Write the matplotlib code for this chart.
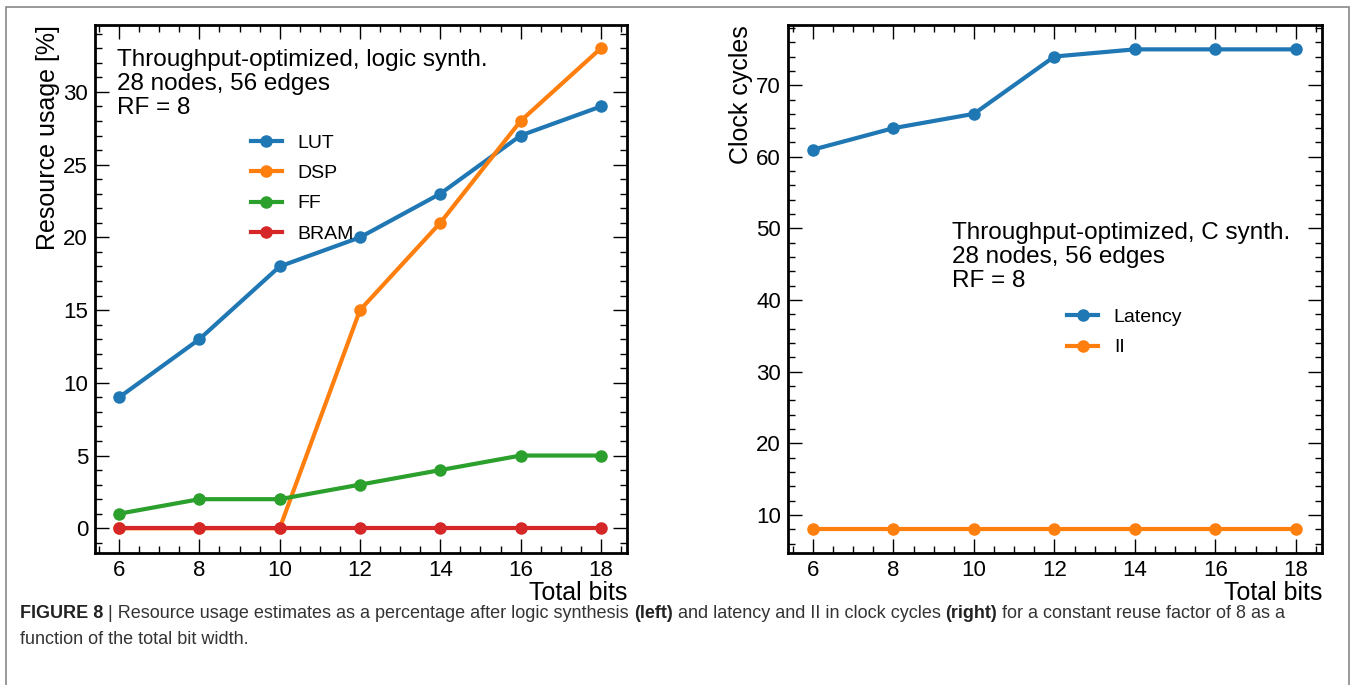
import matplotlib
matplotlib.use("Agg")
import matplotlib.pyplot as plt
from matplotlib.ticker import MultipleLocator
from matplotlib.patches import Rectangle

plt.rcParams['font.family'] = ['Liberation Sans', 'DejaVu Sans']

# data
total_bits = [6, 8, 10, 12, 14, 16, 18]
lut = [9, 13, 18, 20, 23, 27, 29]
dsp = [0, 0, 0, 15, 21, 28, 33]
ff = [1, 2, 2, 3, 4, 5, 5]
bram = [0, 0, 0, 0, 0, 0, 0]
latency = [61, 64, 66, 74, 75, 75, 75]
ii = [8, 8, 8, 8, 8, 8, 8]

colors = ['#1f77b4', '#ff7f0e', '#2ca02c', '#d62728']

fig = plt.figure(figsize=(13.56, 6.85), dpi=100)
W, H = 1356, 685

def px_axes(x0, y0, x1, y1):
    return fig.add_axes([x0 / W, 1 - y1 / H, (x1 - x0) / W, (y1 - y0) / H])

ax1 = px_axes(95, 25, 627, 553)
ax2 = px_axes(788, 25, 1322, 553)

def style(ax, ymajor, yminor):
    ax.xaxis.set_major_locator(MultipleLocator(2))
    ax.xaxis.set_minor_locator(MultipleLocator(0.5))
    ax.yaxis.set_major_locator(MultipleLocator(ymajor))
    ax.yaxis.set_minor_locator(MultipleLocator(yminor))
    ax.tick_params(which='both', direction='in', top=True, right=True, labelsize=16, pad=5)
    ax.tick_params(which='major', length=10, width=1)
    ax.tick_params(which='minor', length=5, width=1)
    for s in ax.spines.values():
        s.set_linewidth(2)
    ax.set_xlabel('Total bits', fontsize=18, loc='right', labelpad=0)

kw = dict(marker='o', markersize=8, linewidth=3)
leg_kw = dict(loc='upper left', frameon=False, fontsize=14, handlelength=1.6,
              labelspacing=0.65, handletextpad=0.8)
note_kw = dict(fontsize=17.5, va='top', ha='left', linespacing=1.12)

for vals, name, c in zip([lut, dsp, ff, bram], ['LUT', 'DSP', 'FF', 'BRAM'], colors):
    ax1.plot(total_bits, vals, color=c, label=name, **kw)
ax1.set_xlim(5.4, 18.65)
ax1.set_ylim(-1.7, 34.6)
style(ax1, 5, 1)
ax1.set_ylabel('Resource usage [%]', fontsize=18, loc='top', labelpad=2)
ax1.text(0.042, 0.955, 'Throughput-optimized, logic synth.\n28 nodes, 56 edges\nRF = 8',
         transform=ax1.transAxes, **note_kw)
ax1.legend(bbox_to_anchor=(0.26, 0.826), **leg_kw)

ax2.plot(total_bits, latency, color=colors[0], label='Latency', **kw)
ax2.plot(total_bits, ii, color=colors[1], label='II', **kw)
ax2.set_xlim(5.38, 18.65)
ax2.set_ylim(4.7, 78.4)
style(ax2, 10, 2)
ax2.set_ylabel('Clock cycles', fontsize=18, loc='top', labelpad=2)
ax2.text(0.307, 0.627, 'Throughput-optimized, C synth.\n28 nodes, 56 edges\nRF = 8',
         transform=ax2.transAxes, **note_kw)
ax2.legend(bbox_to_anchor=(0.49, 0.496), **leg_kw)

# outer frame
fig.patches.append(Rectangle((6 / W, -0.02), 1343 / W, 1 - 7 / H + 0.02, transform=fig.transFigure,
                             fill=False, edgecolor='#888888', linewidth=1.2))

# caption, written piece by piece so the bold parts can sit inline
renderer = fig.canvas.get_renderer()

def caption_line(y, parts):
    x = 20
    for txt, bold in parts:
        t = fig.text(x / W, 1 - y / H, txt, fontsize=13, va='center', ha='left',
                     color='#333333' if not bold else '#222222',
                     fontweight='bold' if bold else 'normal')
        x = t.get_window_extent(renderer).x1

caption_line(613, [('FIGURE 8', True), (' | Resource usage estimates as a percentage after logic synthesis ', False),
                   ('(left)', True), (' and latency and II in clock cycles ', False), ('(right)', True),
                   (' for a constant reuse factor of 8 as a', False)])
caption_line(639, [('function of the total bit width.', False)])

fig.savefig('out.png', dpi=100)
